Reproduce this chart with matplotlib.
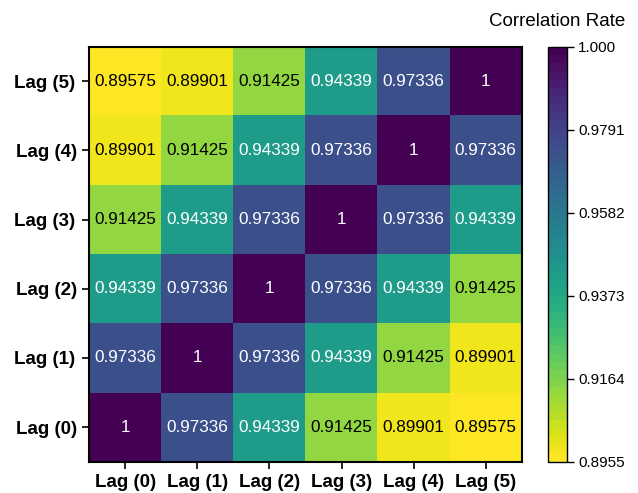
import numpy as np
import matplotlib
matplotlib.use("Agg")
import matplotlib.pyplot as plt
from matplotlib.colors import BoundaryNorm
import matplotlib as mpl

plt.rcParams['font.family'] = ['Liberation Sans', 'DejaVu Sans']

labels = ["Lag (0)", "Lag (1)", "Lag (2)", "Lag (3)", "Lag (4)", "Lag (5)"]
# rows from Lag (0) (bottom) to Lag (5) (top)
row_lag0 = [1, 0.97336, 0.94339, 0.91425, 0.89901, 0.89575]
row_lag1 = [0.97336, 1, 0.97336, 0.94339, 0.91425, 0.89901]
row_lag2 = [0.94339, 0.97336, 1, 0.97336, 0.94339, 0.91425]
row_lag3 = [0.91425, 0.94339, 0.97336, 1, 0.97336, 0.94339]
row_lag4 = [0.89901, 0.91425, 0.94339, 0.97336, 1, 0.97336]
row_lag5 = [0.89575, 0.89901, 0.91425, 0.94339, 0.97336, 1]
cbar_ticks = [0.8955, 0.9164, 0.9373, 0.9582, 0.9791, 1.000]
cbar_ticklabels = ["0.8955", "0.9164", "0.9373", "0.9582", "0.9791", "1.000"]
vmin, vmax = 0.8955, 1.0

data = np.array([row_lag0, row_lag1, row_lag2, row_lag3, row_lag4, row_lag5])

fig = plt.figure(figsize=(6.38, 4.93), dpi=100)
ax = fig.add_axes([89.3/638, 1-461.7/493, (521.7-89.3)/638, (461.7-46.7)/493])
cax = fig.add_axes([548/638, 1-461.7/493, 19/638, (461.7-46.7)/493])

nlev = 50
levels = np.linspace(vmin, vmax, nlev + 1)
cmap = plt.get_cmap('viridis_r', nlev)
norm = BoundaryNorm(levels, cmap.N)

im = ax.imshow(data, cmap=cmap, norm=norm, origin='lower', aspect='auto',
               extent=(-0.5, 5.5, -0.5, 5.5))

for i in range(data.shape[0]):
    for j in range(data.shape[1]):
        v = data[i, j]
        txt = "1" if v == 1 else f"{v:.5f}"
        color = 'white' if v > 0.93 else 'black'
        ax.text(j, i, txt, ha='center', va='center', fontsize=12.3, color=color)

ax.set_xticks(range(6))
ax.set_xticklabels(labels, fontsize=13.5, fontweight='bold')
ax.set_yticks(range(6))
ax.set_yticklabels(labels, fontsize=13.5, fontweight='bold')
ax.tick_params(axis='x', length=5, width=1.2, pad=4)
ax.tick_params(axis='y', length=5, width=1.2, pad=5.5)
ax.set_xlim(-0.5, 5.5)
ax.set_ylim(-0.5, 5.5)
# y tick marks only on Lag (1), Lag (3), Lag (5)
for k, t in enumerate(ax.yaxis.get_major_ticks()):
    if k % 2 == 0:
        t.tick1line.set_markersize(0)
        t.set_pad(3.5)
for s in ax.spines.values():
    s.set_linewidth(1.5)

cb = mpl.colorbar.ColorbarBase(cax, cmap=cmap, norm=norm, boundaries=levels,
                               orientation='vertical')
cb.set_ticks(cbar_ticks)
cb.set_ticklabels(cbar_ticklabels)
cax.minorticks_off()
cax.tick_params(labelsize=11, length=5, width=1, pad=3)
cb.outline.set_linewidth(1)
fig.text(557/638, 1-22/493, "Correlation Rate", ha='center', va='center', fontsize=13.5)

fig.savefig("out.png", dpi=100)
